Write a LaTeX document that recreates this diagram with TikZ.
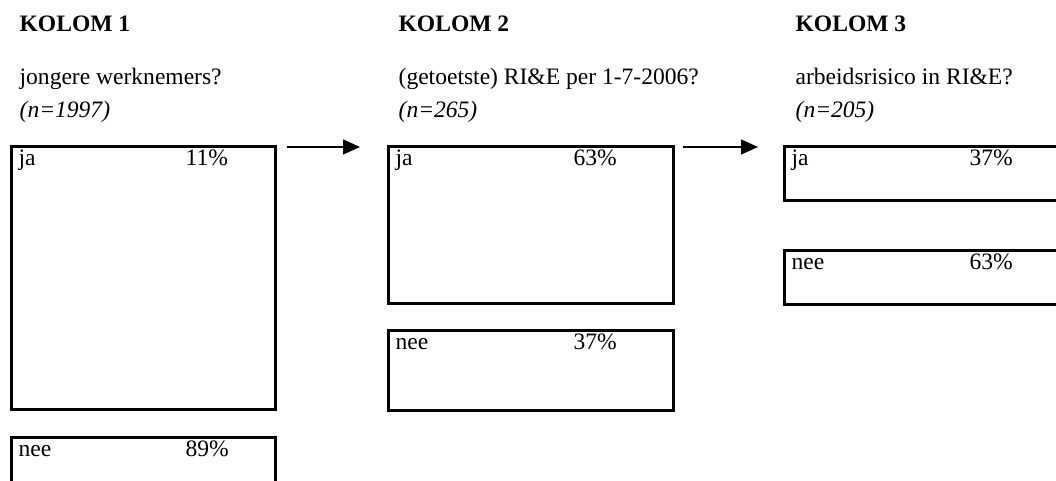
\documentclass[tikz,border=0pt]{standalone}
\usepackage{fontspec}
\setmainfont{Liberation Serif}
\usetikzlibrary{arrows.meta}

\begin{document}
\begin{tikzpicture}[line width=0.75pt,>={Triangle[length=0.34cm,width=0.3cm]},
  every node/.style={font=\fontsize{13.4}{16}\selectfont,inner sep=0pt},
  vak/.style={draw,line width=1.5pt,anchor=north west},
  tekst/.style={anchor=base west}]
\useasboundingbox (0,0) rectangle (21.12,9.62);
\clip (0,0) rectangle (21.12,9.62);
% ---------- KOLOM 1 ----------
\node[tekst] (kop1) at (0.38,8.98) {\bfseries KOLOM 1};
\node[tekst] (vraag1) at (0.38,7.92) {jongere werknemers?};
\node[tekst] (n1) at (0.38,7.26) {\itshape (n=1997)};
\node[vak,minimum width=5.28cm,minimum height=5.26cm] (ja1) at (0.2,6.72) {};
\node[tekst] (ja1a) at ([xshift=0.16cm,yshift=-0.42cm]ja1.north west) {ja};
\node[tekst] (ja1b) at ([xshift=3.5cm,yshift=-0.42cm]ja1.north west) {11\%};
% onderste vak loopt door onder de rand
\node[vak,minimum width=5.28cm,minimum height=2cm] (nee1) at (0.2,0.9) {};
\node[tekst] (nee1a) at ([xshift=0.16cm,yshift=-0.42cm]nee1.north west) {nee};
\node[tekst] (nee1b) at ([xshift=3.5cm,yshift=-0.42cm]nee1.north west) {89\%};
% ---------- KOLOM 2 ----------
\node[tekst] (kop2) at (7.96,8.98) {\bfseries KOLOM 2};
\node[tekst] (vraag2) at (7.96,7.92) {(getoetste) RI\&E per 1-7-2006?};
\node[tekst] (n2) at (7.96,7.26) {\itshape (n=265)};
\node[vak,minimum width=5.7cm,minimum height=3.14cm] (ja2) at (7.74,6.72) {};
\node[tekst] (ja2a) at ([xshift=0.16cm,yshift=-0.42cm]ja2.north west) {ja};
\node[tekst] (ja2b) at ([xshift=3.72cm,yshift=-0.42cm]ja2.north west) {63\%};
\node[vak,minimum width=5.7cm,minimum height=1.6cm] (nee2) at (7.74,3.04) {};
\node[tekst] (nee2a) at ([xshift=0.16cm,yshift=-0.42cm]nee2.north west) {nee};
\node[tekst] (nee2b) at ([xshift=3.72cm,yshift=-0.42cm]nee2.north west) {37\%};
% ---------- KOLOM 3 ----------
\node[tekst] (kop3) at (15.9,8.98) {\bfseries KOLOM 3};
\node[tekst] (vraag3) at (15.9,7.92) {arbeidsrisico in RI\&E?};
\node[tekst] (n3) at (15.9,7.26) {\itshape (n=205)};
\node[vak,minimum width=5.7cm,minimum height=1.08cm] (ja3) at (15.66,6.72) {};
\node[tekst] (ja3a) at ([xshift=0.16cm,yshift=-0.42cm]ja3.north west) {ja};
\node[tekst] (ja3b) at ([xshift=3.72cm,yshift=-0.42cm]ja3.north west) {37\%};
\node[vak,minimum width=5.7cm,minimum height=1.08cm] (nee3) at (15.66,4.64) {};
\node[tekst] (nee3a) at ([xshift=0.16cm,yshift=-0.42cm]nee3.north west) {nee};
\node[tekst] (nee3b) at ([xshift=3.72cm,yshift=-0.42cm]nee3.north west) {63\%};
% pijlen tussen de kolommen
\draw[->] ([xshift=0.2cm,yshift=-0.04cm]ja1.north east) -- ([xshift=-0.54cm,yshift=-0.04cm]ja2.north west);
\draw[->] ([xshift=0.16cm,yshift=-0.04cm]ja2.north east) -- ([xshift=-0.5cm,yshift=-0.04cm]ja3.north west);
\end{tikzpicture}
\end{document}
